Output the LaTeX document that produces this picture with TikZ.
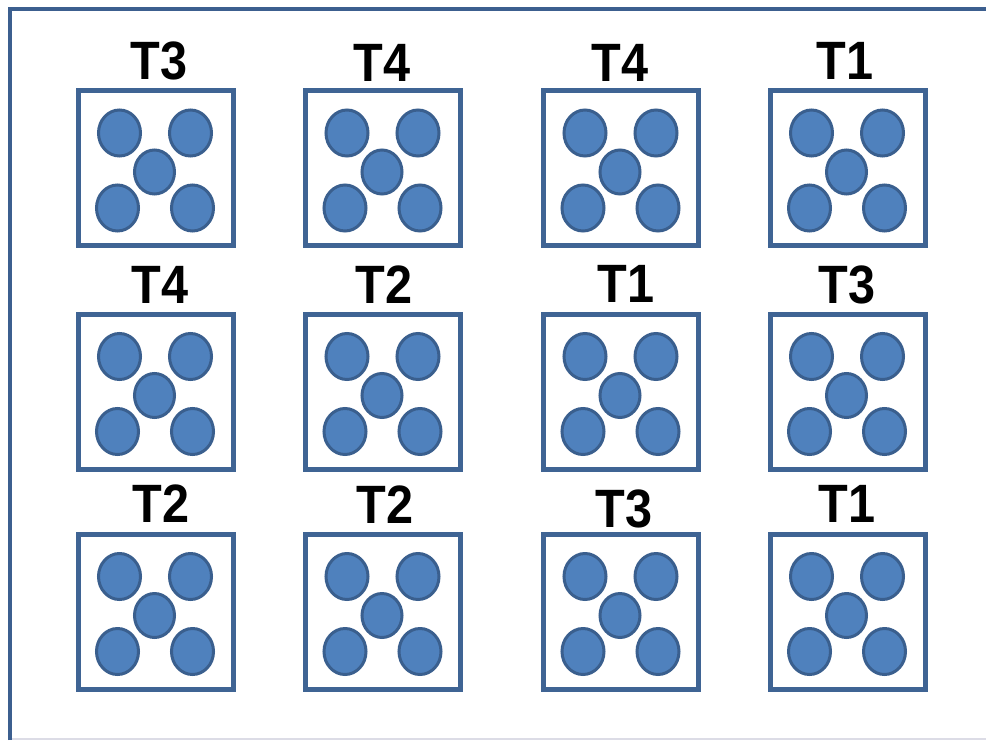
\documentclass[tikz,border=0pt]{standalone}
\usepackage{fontspec}
\setmainfont{Liberation Sans}
\definecolor{frameblue}{HTML}{3C5F8F}
\definecolor{dotfill}{HTML}{4F81BD}
\definecolor{dotedge}{HTML}{3A5F8E}
\definecolor{boxedge}{HTML}{3F6494}
\definecolor{bottomgray}{HTML}{DCDCE6}
\newcommand{\cellLabel}[1]{\scalebox{0.9}[1]{#1}}
\begin{document}
\begin{tikzpicture}[x=1pt,y=-1pt,
  cell/.style={draw=boxedge, line width=5pt, minimum width=155pt, minimum height=155pt, inner sep=0pt, fill=white},
  dot/.style={fill=dotfill, draw=dotedge, line width=3pt},
  lab/.style={font=\fontsize{54}{54}\selectfont\bfseries, anchor=base, inner sep=0pt}]
\useasboundingbox (0,0) rectangle (986,740);
\fill[white] (0,0) rectangle (986,740);
\coordinate (fbl) at (10,740);
\coordinate (ftl) at (10,9);
\coordinate (ftr) at (986,9);
\coordinate (gl) at (12,739);
\coordinate (gr) at (986,739);
\draw[bottomgray, line width=1.2pt] (gl) -- (gr);
\draw[frameblue, line width=4pt] (fbl) -- (ftl) -- (ftr);
\foreach \r/\y in {1/168,2/391.5,3/611.5}{
  \foreach \c/\x in {1/155.5,2/383,3/621,4/847.5}{
    \node[cell] (b\r\c) at (\x,\y) {};
    \draw[dot] (\x-36,\y-35) ellipse [x radius=21pt, y radius=23pt];
    \draw[dot] (\x+35,\y-35) ellipse [x radius=21pt, y radius=23pt];
    \draw[dot] (\x-1,\y+4) ellipse [x radius=20pt, y radius=22pt];
    \draw[dot] (\x-38,\y+40) ellipse [x radius=21pt, y radius=23pt];
    \draw[dot] (\x+37,\y+40) ellipse [x radius=21pt, y radius=23pt];
  }
}
\node[lab] (l11) at (159,79) {\cellLabel{T3}};
\node[lab] (l12) at (382,81) {\cellLabel{T4}};
\node[lab] (l13) at (620,81) {\cellLabel{T4}};
\node[lab] (l14) at (845,79) {\cellLabel{T1}};
\node[lab] (l21) at (160,303) {\cellLabel{T4}};
\node[lab] (l22) at (384,303) {\cellLabel{T2}};
\node[lab] (l23) at (626,302) {\cellLabel{T1}};
\node[lab] (l24) at (847,303) {\cellLabel{T3}};
\node[lab] (l31) at (161,522) {\cellLabel{T2}};
\node[lab] (l32) at (385,523) {\cellLabel{T2}};
\node[lab] (l33) at (624,527) {\cellLabel{T3}};
\node[lab] (l34) at (847,522) {\cellLabel{T1}};
\end{tikzpicture}
\end{document}
